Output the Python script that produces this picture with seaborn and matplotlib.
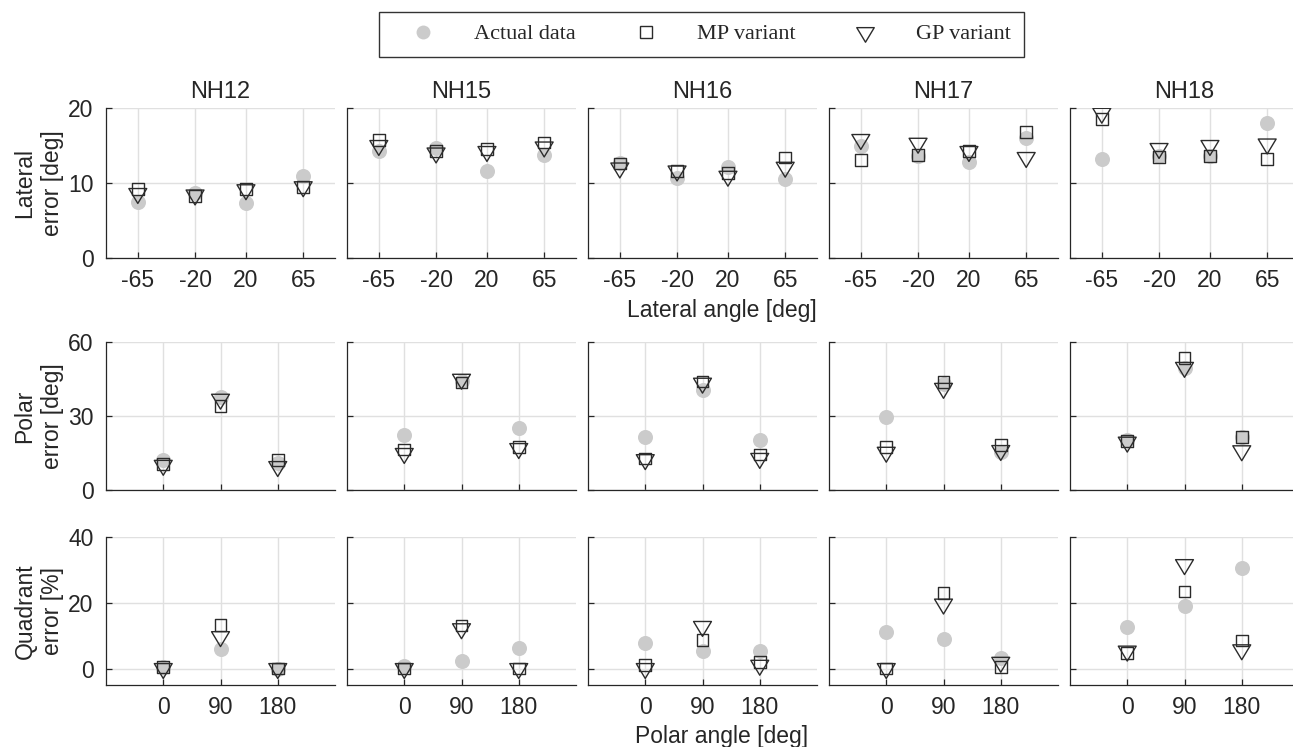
import numpy as np
import pandas as pd
import matplotlib
matplotlib.use("Agg")
import matplotlib.pyplot as plt
import seaborn as sns
from matplotlib.path import Path
from matplotlib.lines import Line2D
from matplotlib.font_manager import FontProperties

# ---------------- data ----------------
subjects = ["NH12", "NH15", "NH16", "NH17", "NH18"]
lat_angles = [-65, -20, 20, 65]
pol_angles = [0, 90, 180]

lat_actual = [[7.5, 8.7, 7.4, 10.9], [14.3, 14.7, 11.6, 13.7], [12.7, 10.7, 12.2, 10.5],
              [15.0, 13.6, 12.8, 16.0], [13.2, 13.6, 13.6, 18.0]]
lat_mp = [[9.2, 8.3, 9.2, 9.5], [15.7, 14.3, 14.5, 15.4], [12.6, 11.6, 11.3, 13.4],
          [13.1, 13.7, 14.3, 16.8], [18.5, 13.5, 13.6, 13.2]]
lat_gp = [[8.6, 8.4, 9.1, 9.5], [15.0, 14.0, 14.2, 14.8], [12.0, 11.6, 10.9, 12.1],
          [15.8, 15.3, 14.2, 13.4], [19.3, 14.6, 15.0, 15.2]]

pol_actual = [[12.3, 37.9, 11.0], [22.5, 44.0, 25.2], [21.6, 40.6, 20.2],
              [29.4, 43.0, 15.5], [20.2, 49.4, 21.4]]
pol_mp = [[10.5, 34.2, 12.3], [16.4, 43.6, 17.5], [12.8, 44.0, 14.4],
          [17.5, 43.7, 18.3], [19.9, 53.6, 21.4]]
pol_gp = [[10.0, 36.8, 9.5], [14.8, 44.9, 16.8], [12.3, 43.3, 12.8],
          [15.3, 41.2, 16.0], [19.4, 49.7, 15.9]]

quad_actual = [[0.5, 5.9, 0.0], [0.8, 2.2, 6.4], [7.7, 5.2, 5.4],
               [11.0, 8.9, 3.1], [12.5, 18.9, 30.6]]
quad_mp = [[0.5, 13.2, 0.0], [0.0, 13.1, 0.0], [1.0, 8.8, 1.9],
           [0.0, 23.0, 0.5], [4.8, 23.4, 8.5]]
quad_gp = [[0.0, 9.7, 0.0], [0.0, 12.1, 0.0], [0.0, 12.8, 1.0],
           [0.0, 19.6, 1.9], [5.3, 31.6, 5.7]]

row_ylabels = ["Lateral\nerror [deg]", "Polar\nerror [deg]", "Quadrant\nerror [%]"]
row_yticks = [[0, 10, 20], [0, 30, 60], [0, 20, 40]]
row_ylims = [(0, 20), (0, 60), (-5, 40)]
legend_labels = ["Actual data", "MP variant", "GP variant"]

# ---------------- style ----------------
sns.set_theme(style="white")
plt.rcParams["font.family"] = ["Liberation Sans", "DejaVu Sans"]
plt.rcParams["axes.unicode_minus"] = False
TXT = "#262626"
EDGE = "#2b2b2b"
FS = 16.5

# downward triangle centred on its centroid
tri_marker = Path([(-1.2, 2 / 3), (1.2, 2 / 3), (0, -4 / 3), (-1.2, 2 / 3)],
                  [Path.MOVETO, Path.LINETO, Path.LINETO, Path.CLOSEPOLY])

W, H = 1293, 747
fig = plt.figure(figsize=(W / 100, H / 100), dpi=100)

lefts = [106, 347, 588, 829, 1070]
pw = 229
rows = [(108, 258), (342, 490), (537, 685)]

rows_data = [
    (lat_angles, lat_actual, lat_mp, lat_gp, (-90, 90)),
    (pol_angles, pol_actual, pol_mp, pol_gp, (-90, 270)),
    (pol_angles, quad_actual, quad_mp, quad_gp, (-90, 270)),
]

for r, (angles, act, mp, gp, xl) in enumerate(rows_data):
    top, bot = rows[r]
    for c, subj in enumerate(subjects):
        ax = fig.add_axes([lefts[c] / W, 1 - bot / H, pw / W, (bot - top) / H])
        sns.scatterplot(x=angles, y=act[c], ax=ax, marker="o", s=117,
                        color="#cbcbcb", linewidth=0, zorder=3)
        sns.scatterplot(x=angles, y=mp[c], ax=ax, marker="s", s=72,
                        linewidth=1.0, zorder=4)
        coll = ax.collections[-1]
        coll.set_facecolor("none")
        coll.set_edgecolor(EDGE)
        sns.scatterplot(x=angles, y=gp[c], ax=ax, marker=tri_marker, s=205,
                        linewidth=1.0, zorder=5)
        coll = ax.collections[-1]
        coll.set_facecolor("none")
        coll.set_edgecolor(EDGE)

        ax.set_xlim(*xl)
        ax.set_ylim(*row_ylims[r])
        ax.set_xticks(angles)
        ax.set_yticks(row_yticks[r])
        ax.grid(True, color="#e0e0e0", linewidth=1.0)
        ax.set_axisbelow(True)
        for s in ["top", "right"]:
            ax.spines[s].set_visible(False)
        for s in ["left", "bottom"]:
            ax.spines[s].set_color(TXT)
            ax.spines[s].set_linewidth(0.9)
        ax.tick_params(direction="in", length=4, width=0.9, color=TXT,
                       labelsize=FS, labelcolor=TXT, bottom=True, left=True)
        ax.tick_params(axis="x", pad=8)
        ax.tick_params(axis="y", pad=9)
        ax.set_xlabel("")
        ax.set_ylabel("")
        if c == 0:
            ax.set_ylabel(row_ylabels[r], fontsize=FS, color=TXT, labelpad=3,
                          linespacing=1.25)
        else:
            ax.set_yticklabels([])
        if r == 1:
            ax.set_xticklabels([])
        if r == 0:
            ax.set_title(subj, fontsize=FS + 0.5, color=TXT, pad=7)

fig.text(722 / W, 1 - 310 / H, "Lateral angle [deg]", ha="center", va="center",
         fontsize=FS, color=TXT)
fig.text(722 / W, 1 - 737 / H, "Polar angle [deg]", ha="center", va="center",
         fontsize=FS, color=TXT)

handles = [
    Line2D([], [], linestyle="none", marker="o", markersize=10,
           markerfacecolor="#cbcbcb", markeredgewidth=0),
    Line2D([], [], linestyle="none", marker="s", markersize=8.5,
           markerfacecolor="none", markeredgecolor=EDGE, markeredgewidth=1.0),
    Line2D([], [], linestyle="none", marker=tri_marker, markersize=14,
           markerfacecolor="none", markeredgecolor=EDGE, markeredgewidth=1.0),
]
leg = fig.legend(handles, legend_labels, loc="center", ncol=3,
                 bbox_to_anchor=(701.5 / W, 1 - 34 / H), frameon=True, fancybox=False,
                 edgecolor="#333333", framealpha=1,
                 prop=FontProperties(family="Liberation Serif", size=16),
                 handlelength=2.8, handletextpad=0.9, columnspacing=1.75,
                 borderpad=0.55)
leg.get_frame().set_linewidth(1.0)

fig.savefig("out.png", dpi=100)
